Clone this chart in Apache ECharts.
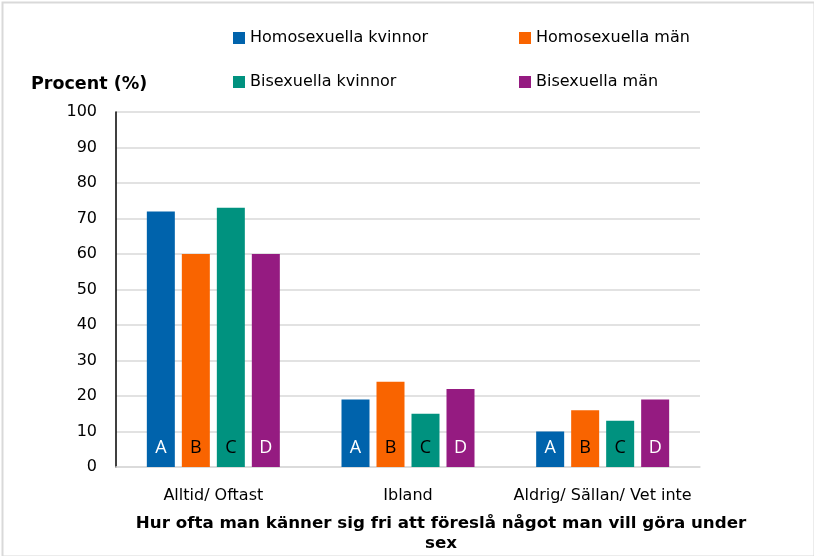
<!DOCTYPE html>
<html><head><meta charset="utf-8">
<script src="https://cdn.jsdelivr.net/npm/echarts@6/dist/echarts.min.js"></script>
<style>html,body{margin:0;padding:0;background:#fff}#c{width:814px;height:556px}</style>
</head><body><div id="c"></div>
<script>
const categories = ['Alltid/ Oftast', 'Ibland', 'Aldrig/ Sällan/ Vet inte'];
const seriesNames = ['Homosexuella kvinnor', 'Homosexuella män', 'Bisexuella kvinnor', 'Bisexuella män'];
const homoKvinnor = [72, 19, 10];
const homoMan = [60, 24, 16];
const biKvinnor = [73, 15, 13];
const biMan = [60, 22, 19];
const barLetters = ['A', 'B', 'C', 'D'];
const yTicks = [0, 10, 20, 30, 40, 50, 60, 70, 80, 90, 100];
const yAxisTitle = 'Procent (%)';
const xAxisTitle = 'Hur ofta man känner sig fri att föreslå något man vill göra under\nsex';

const colors = ['#0063AC', '#F96400', '#00927F', '#951B81'];
const labelColors = ['#ffffff', '#000000', '#000000', '#ffffff'];
const values = [homoKvinnor, homoMan, biKvinnor, biMan];
const FONT = 'DejaVu Sans';

const chart = echarts.init(document.getElementById('c'));
chart.setOption({
  animation: false,
  textStyle: { fontFamily: FONT },
  graphic: [
    { type: 'rect', left: 0, top: 0, shape: { x: 1, y: 1, width: 812, height: 554 }, style: { fill: 'none', stroke: '#d9d9d9', lineWidth: 2 } },
    { type: 'text', left: 31, top: 75, style: { text: yAxisTitle, font: 'bold 17.5px "DejaVu Sans"', fill: '#000' } },
    { type: 'text', x: 441, y: 514, style: { text: xAxisTitle, font: 'bold 16.7px "DejaVu Sans"', fill: '#000', align: 'center', lineHeight: 20 } }
  ],
  legend: [
    { left: 233, top: 30, padding: 0, orient: 'vertical', itemGap: 28, itemWidth: 12, itemHeight: 12, icon: 'rect',
      data: [seriesNames[0], seriesNames[2]], textStyle: { fontSize: 16, color: '#000', fontFamily: FONT } },
    { left: 519, top: 30, padding: 0, orient: 'vertical', itemGap: 28, itemWidth: 12, itemHeight: 12, icon: 'rect',
      data: [seriesNames[1], seriesNames[3]], textStyle: { fontSize: 16, color: '#000', fontFamily: FONT } }
  ],
  grid: { left: 116, right: 114, top: 112, bottom: 89, containLabel: false },
  xAxis: {
    type: 'category', data: categories,
    axisLine: { show: true, lineStyle: { color: '#d9d9d9', width: 1.5 } },
    axisTick: { show: false },
    axisLabel: { color: '#000', fontSize: 16, margin: 21, interval: 0, fontFamily: FONT }
  },
  yAxis: {
    type: 'value', min: 0, max: 100, interval: 10,
    axisLine: { show: true, lineStyle: { color: '#000', width: 1.5 } },
    axisTick: { show: false },
    axisLabel: { color: '#000', fontSize: 16, margin: 19, fontFamily: FONT,
      formatter: v => yTicks.includes(v) ? String(v) : '' },
    splitLine: { lineStyle: { color: '#d9d9d9', width: 1.5 } }
  },
  series: seriesNames.map((n, i) => ({
    name: n, type: 'bar', data: values[i], barWidth: 28, barGap: '25%',
    itemStyle: { color: colors[i] },
    label: { show: true, position: 'insideBottom', distance: 10, formatter: barLetters[i],
      color: labelColors[i], fontSize: 18, fontFamily: 'Open Sans' }
  }))
});
</script></body></html>
